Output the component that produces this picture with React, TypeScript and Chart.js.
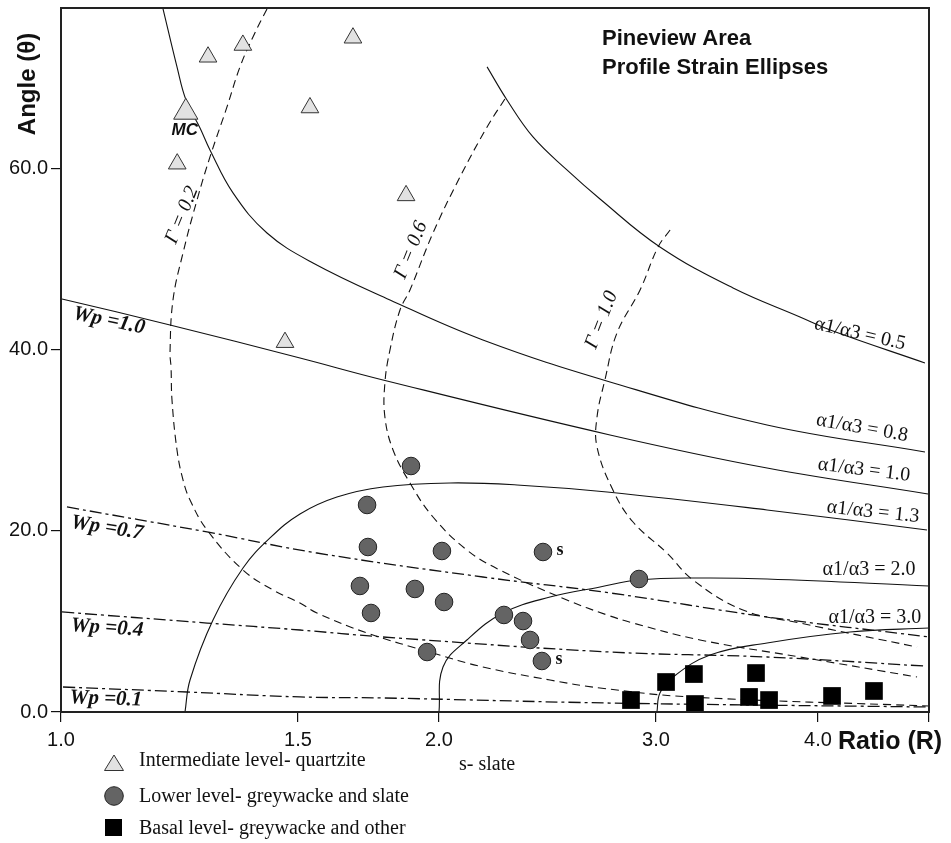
import React, { useEffect, useRef } from 'react';
import { Chart, registerables, LinearScale } from 'chart.js';

Chart.register(...registerables);

// ---------------- Axis definition ----------------
const X_TICKS = [1.0, 1.5, 2.0, 3.0, 4.0, 4.9];
const X_TICK_LABELS = ['1.0', '1.5', '2.0', '3.0', '4.0', ''];
const Y_TICKS = [0, 20, 40, 60];
const Y_MAX = 77.7;
// ratio axis knots (ratio value -> fraction of axis length), log-interpolated between knots
const AXIS_R = [1.0, 1.5, 2.0, 3.0, 4.0, 4.9];
const AXIS_F = [0, 0.27304, 0.43548, 0.68548, 0.87212, 1.0];

// ---------------- Sample data ----------------
// Intermediate level - quartzite (triangles)
const QUARTZITE_R = [1.286, 1.365, 1.678, 1.238, 1.220, 1.537, 1.870, 1.467];
const QUARTZITE_THETA = [72.3, 73.6, 74.4, 66.2, 60.5, 66.7, 57.0, 40.8];
const MC_INDEX = 3;
// Lower level - greywacke and slate (circles)
const GREYWACKE_R = [1.889, 1.727, 1.730, 2.011, 2.429, 1.702, 1.904, 2.019, 1.741, 2.258, 2.340, 2.371, 2.424, 1.952, 2.906];
const GREYWACKE_THETA = [27.15, 22.85, 18.21, 17.77, 17.66, 13.91, 13.58, 12.14, 10.93, 10.71, 10.04, 7.95, 5.63, 6.62, 14.68];
const SLATE_INDEX = [4, 12];
// Basal level - greywacke and other (squares)
const BASAL_R = [2.863, 3.054, 3.209, 3.215, 3.583, 3.539, 3.667, 4.104, 4.431];
const BASAL_THETA = [1.32, 3.31, 4.19, 0.88, 4.30, 1.66, 1.32, 1.77, 2.32];

// ---------------- Reference curves ----------------
const ALPHA_05_R = [2.188, 2.271, 2.384, 2.540, 2.702, 3.021, 3.440, 3.874, 4.111, 4.864];
const ALPHA_05_T = [71.20, 67.55, 63.47, 59.83, 56.62, 51.33, 46.80, 43.60, 42.05, 38.52];
const ALPHA_08_R = [1.1907, 1.2195, 1.2384, 1.2685, 1.2903, 1.3421, 1.4225, 1.5466, 1.8097, 2.171, 2.753, 3.654, 4.864];
const ALPHA_08_T = [77.60, 71.20, 67.55, 64.46, 62.03, 57.29, 52.87, 49.56, 45.48, 41.06, 36.43, 31.68, 28.70];
const ALPHA_10_R = [1.0017, 1.2050, 1.5061, 1.784, 2.753, 3.654, 4.891];
const ALPHA_10_T = [45.59, 42.72, 39.07, 36.65, 30.58, 26.93, 24.06];
const ALPHA_13_R = [1.2363, 1.2470, 1.2970, 1.3653, 1.4299, 1.5061, 1.624, 1.784, 2.042, 2.314, 2.738, 3.654, 4.882];
const ALPHA_13_T = [0, 3.53, 10.15, 15.89, 19.21, 21.86, 23.73, 24.84, 25.28, 25.06, 24.28, 22.30, 20.09];
const ALPHA_20_R = [2.000, 2.015, 2.107, 2.254, 2.461, 2.702, 2.901, 3.244, 3.654, 4.9];
const ALPHA_20_T = [0, 4.97, 7.95, 10.93, 12.69, 13.80, 14.57, 14.79, 14.68, 13.91];
const ALPHA_30_R = [3.005, 3.021, 3.092, 3.302, 3.654, 4.241, 4.9];
const ALPHA_30_T = [0, 2.10, 3.86, 6.29, 7.62, 8.83, 9.27];

const WP_07_R = [1.0103, 1.2838, 1.559, 2.171, 2.753, 3.654, 4.9];
const WP_07_T = [22.63, 19.87, 17.55, 14.90, 13.14, 10.49, 8.28];
const WP_04_R = [1.0017, 1.2838, 1.5061, 1.784, 2.753, 3.654, 4.847];
const WP_04_T = [11.04, 9.82, 9.05, 8.28, 6.62, 6.07, 5.08];
const WP_01_R = [1.0034, 1.2406, 1.5061, 1.784, 2.753, 4.9];
const WP_01_T = [2.76, 2.21, 1.66, 1.55, 0.99, 0.55];

const GAMMA_02_R = [1.4225, 1.3888, 1.3583, 1.3284, 1.2903, 1.2620, 1.2321, 1.2112, 1.2050, 1.2071, 1.2091, 1.2195, 1.2321, 1.2470, 1.2838, 1.3653, 1.4372, 1.5061, 1.559, 1.727, 1.9757, 2.171, 2.461, 2.702, 3.187, 4.9];
const GAMMA_02_T = [77.60, 74.51, 71.20, 66.78, 61.26, 56.51, 50.66, 45.48, 39.63, 38.08, 34.44, 28.92, 25.61, 23.40, 20.09, 15.67, 13.47, 12.03, 10.93, 8.72, 6.51, 4.97, 3.53, 2.65, 1.66, 0.66];
const GAMMA_06_R = [2.262, 2.188, 2.080, 1.9757, 1.885, 1.847, 1.8097, 1.791, 1.791, 1.821, 1.885, 1.9757, 2.107, 2.241, 2.540, 2.738, 2.874, 3.244, 3.874, 4.794];
const GAMMA_06_T = [67.66, 64.57, 59.05, 52.87, 46.58, 44.37, 39.96, 36.32, 32.56, 28.92, 25.28, 21.52, 17.88, 15.67, 12.36, 10.71, 9.82, 7.95, 6.07, 3.86];
const GAMMA_10_R = [3.076, 3.011, 2.912, 2.789, 2.727, 2.687, 2.687, 2.768, 2.874, 3.059, 3.204, 3.501, 3.874, 4.794];
const GAMMA_10_T = [53.20, 51.33, 46.58, 41.83, 36.65, 32.56, 29.25, 24.50, 20.97, 17.55, 14.57, 11.26, 9.82, 7.17];

// ---------------- Curve labels ----------------
const ALPHA_LABELS = ['α1/α3 = 0.5', 'α1/α3 = 0.8', 'α1/α3 = 1.0', 'α1/α3 = 1.3', 'α1/α3 = 2.0', 'α1/α3 = 3.0'];
const ALPHA_LABEL_R = [4.319, 4.335, 4.351, 4.423, 4.391, 4.439];
const ALPHA_LABEL_T = [41.72, 31.35, 26.71, 22.08, 15.67, 10.38];
const ALPHA_LABEL_ROT = [13, 10, 7, 6, 0, 0];
const GAMMA_LABELS = ['Γ = 0.2', 'Γ = 0.6', 'Γ = 1.0'];
const GAMMA_LABEL_R = [1.230, 1.889, 2.710];
const GAMMA_LABEL_T = [54.86, 51.0, 43.27];
const GAMMA_LABEL_ROT = [-68, -68, -69];
const WP_LABELS = ['Wp =1.0', 'Wp =0.7', 'Wp =0.4', 'Wp =0.1'];
const WP_LABEL_R = [1.0856, 1.0819, 1.0819, 1.0800];
const WP_LABEL_T = [43.16, 20.31, 9.27, 1.43];
const WP_LABEL_ROT = [12, 9, 4, 2];

const LEGEND_LABELS = ['Intermediate level- quartzite', 'Lower level- greywacke and slate', 'Basal level- greywacke and other'];

// ---------------- Custom ratio scale ----------------
function ratioToDecimal(v: number): number {
  if (!(v > 0)) return 0;
  const n = AXIS_R.length;
  let i = 0;
  while (i < n - 2 && v > AXIS_R[i + 1]) i++;
  const t = Math.log(v / AXIS_R[i]) / Math.log(AXIS_R[i + 1] / AXIS_R[i]);
  return AXIS_F[i] + t * (AXIS_F[i + 1] - AXIS_F[i]);
}
function decimalToRatio(d: number): number {
  const n = AXIS_F.length;
  let i = 0;
  while (i < n - 2 && d > AXIS_F[i + 1]) i++;
  const t = (d - AXIS_F[i]) / (AXIS_F[i + 1] - AXIS_F[i]);
  return AXIS_R[i] * Math.pow(AXIS_R[i + 1] / AXIS_R[i], t);
}

class RatioScale extends (LinearScale as any) {
  static id = 'ratio';
  static defaults = (LinearScale as any).defaults;
  determineDataLimits() {
    (this as any).min = AXIS_R[0];
    (this as any).max = AXIS_R[AXIS_R.length - 1];
  }
  buildTicks() {
    return X_TICKS.map((value) => ({ value }));
  }
  getPixelForValue(value: number) {
    return (this as any).getPixelForDecimal(ratioToDecimal(value));
  }
  getValueForPixel(pixel: number) {
    return decimalToRatio((this as any).getDecimalForPixel(pixel));
  }
}
Chart.register(RatioScale as any);

const pts = (rs: number[], ts: number[]) => rs.map((r, i) => ({ x: r, y: ts[i] }));

const INK = '#111';
const DASHED = [8, 5];
const DASHDOT = [12, 4, 3, 4];

function curve(rs: number[], ts: number[], dash: number[], width = 1.1) {
  return {
    data: pts(rs, ts),
    showLine: true,
    pointRadius: 0,
    borderColor: INK,
    borderWidth: width,
    borderDash: dash,
    tension: 0.4,
    fill: false,
    order: 1,
  };
}

const annotationPlugin = {
  id: 'strainAnnotations',
  afterDatasetsDraw(chart: any) {
    const ctx = chart.ctx as CanvasRenderingContext2D;
    const xs = chart.scales.x;
    const ys = chart.scales.y;
    const put = (text: string, r: number, t: number, rot: number, font: string) => {
      const px = xs.getPixelForValue(r);
      const py = ys.getPixelForValue(t);
      ctx.save();
      ctx.translate(px, py);
      ctx.rotate((rot * Math.PI) / 180);
      ctx.font = font;
      ctx.textAlign = 'center';
      ctx.textBaseline = 'middle';
      ctx.fillStyle = INK;
      ctx.fillText(text, 0, 0);
      ctx.restore();
    };
    ALPHA_LABELS.forEach((s, i) => put(s, ALPHA_LABEL_R[i], ALPHA_LABEL_T[i], ALPHA_LABEL_ROT[i], "20px 'Liberation Serif'"));
    GAMMA_LABELS.forEach((s, i) => put(s, GAMMA_LABEL_R[i], GAMMA_LABEL_T[i], GAMMA_LABEL_ROT[i], "italic 20px 'Liberation Serif'"));
    WP_LABELS.forEach((s, i) => put(s, WP_LABEL_R[i], WP_LABEL_T[i], WP_LABEL_ROT[i], "italic bold 21px 'Liberation Serif'"));

    // MC label under the large triangle
    ctx.save();
    ctx.font = "italic bold 17px 'Liberation Sans'";
    ctx.textAlign = 'center';
    ctx.textBaseline = 'middle';
    ctx.fillStyle = INK;
    ctx.fillText('MC', xs.getPixelForValue(QUARTZITE_R[MC_INDEX]) - 1, ys.getPixelForValue(QUARTZITE_THETA[MC_INDEX]) + 18);
    // slate markers
    ctx.font = "bold 18px 'Liberation Serif'";
    SLATE_INDEX.forEach((i) => {
      ctx.fillText('s', xs.getPixelForValue(GREYWACKE_R[i]) + 17, ys.getPixelForValue(GREYWACKE_THETA[i]) - 2);
    });
    ctx.restore();
  },
  afterDraw(chart: any) {
    const ctx = chart.ctx as CanvasRenderingContext2D;
    const a = chart.chartArea;
    ctx.save();
    // frame
    ctx.strokeStyle = '#222';
    ctx.lineWidth = 2;
    ctx.strokeRect(a.left, a.top, a.right - a.left, a.bottom - a.top);
    ctx.fillStyle = INK;
    // title
    ctx.font = "bold 22px 'Liberation Sans'";
    ctx.textAlign = 'left';
    ctx.textBaseline = 'alphabetic';
    ctx.fillText('Pineview Area', 602, 45);
    ctx.fillText('Profile Strain Ellipses', 602, 74);
    // axis titles
    ctx.font = "bold 25px 'Liberation Sans'";
    ctx.fillText('Ratio (R)', 838, 749);
    ctx.save();
    ctx.translate(35, 84);
    ctx.rotate(-Math.PI / 2);
    ctx.font = "bold 24px 'Liberation Sans'";
    ctx.textAlign = 'center';
    ctx.fillText('Angle (θ)', 0, 0);
    ctx.restore();
    // legend
    ctx.font = "20px 'Liberation Serif'";
    ctx.fillText(LEGEND_LABELS[0], 139, 766);
    ctx.fillText(LEGEND_LABELS[1], 139, 802);
    ctx.fillText(LEGEND_LABELS[2], 139, 834);
    ctx.fillText('s- slate', 459, 770);
    // legend markers
    ctx.lineWidth = 1;
    ctx.strokeStyle = '#333';
    ctx.fillStyle = '#e2e2e2';
    ctx.beginPath();
    ctx.moveTo(114, 755);
    ctx.lineTo(123.5, 770.5);
    ctx.lineTo(104.5, 770.5);
    ctx.closePath();
    ctx.fill();
    ctx.stroke();
    ctx.fillStyle = '#646464';
    ctx.strokeStyle = '#222';
    ctx.beginPath();
    ctx.arc(114, 796, 9.3, 0, Math.PI * 2);
    ctx.fill();
    ctx.stroke();
    ctx.fillStyle = '#000';
    ctx.fillRect(105, 819, 17, 17);
    ctx.restore();
  },
};

export default function App() {
  const ref = useRef<HTMLCanvasElement>(null);
  useEffect(() => {
    const canvas = ref.current;
    if (!canvas) return;
    const tickFont = { family: "'Liberation Sans'", size: 20 };
    const chart = new Chart(canvas, {
      type: 'scatter',
      data: {
        datasets: [
          {
            label: LEGEND_LABELS[0],
            data: pts(QUARTZITE_R, QUARTZITE_THETA),
            pointStyle: 'triangle',
            pointRadius: QUARTZITE_R.map((_, i) => (i === MC_INDEX ? 14 : 10.2)),
            pointBackgroundColor: '#e2e2e2',
            pointBorderColor: '#333',
            pointBorderWidth: 1,
            showLine: false,
            order: 0,
          },
          {
            label: LEGEND_LABELS[1],
            data: pts(GREYWACKE_R, GREYWACKE_THETA),
            pointStyle: 'circle',
            pointRadius: 8.8,
            pointBackgroundColor: '#646464',
            pointBorderColor: '#222',
            pointBorderWidth: 1,
            showLine: false,
            order: 0,
          },
          {
            label: LEGEND_LABELS[2],
            data: pts(BASAL_R, BASAL_THETA),
            pointStyle: 'rect',
            pointRadius: 12.5,
            pointBackgroundColor: '#000',
            pointBorderColor: '#000',
            pointBorderWidth: 0,
            showLine: false,
            order: 0,
          },
          curve(ALPHA_05_R, ALPHA_05_T, []),
          curve(ALPHA_08_R, ALPHA_08_T, []),
          curve(ALPHA_10_R, ALPHA_10_T, []),
          curve(ALPHA_13_R, ALPHA_13_T, []),
          curve(ALPHA_20_R, ALPHA_20_T, []),
          curve(ALPHA_30_R, ALPHA_30_T, []),
          curve(WP_07_R, WP_07_T, DASHDOT, 1.3),
          curve(WP_04_R, WP_04_T, DASHDOT, 1.3),
          curve(WP_01_R, WP_01_T, DASHDOT, 1.3),
          curve(GAMMA_02_R, GAMMA_02_T, DASHED),
          curve(GAMMA_06_R, GAMMA_06_T, DASHED),
          curve(GAMMA_10_R, GAMMA_10_T, DASHED),
        ] as any,
      },
      options: {
        animation: false,
        responsive: false,
        events: [],
        layout: { autoPadding: false, padding: { left: 0, top: 8, right: 22, bottom: 0 } },
        plugins: { legend: { display: false }, tooltip: { enabled: false } },
        scales: {
          x: {
            type: 'ratio' as any,
            min: AXIS_R[0],
            max: AXIS_R[AXIS_R.length - 1],
            afterFit: (s: any) => {
              s.height = 131;
              s.paddingLeft = 0;
              s.paddingRight = 0;
            },
            border: { display: false },
            grid: { drawOnChartArea: false, drawTicks: true, tickLength: 10, color: INK, lineWidth: 1.2 },
            ticks: {
              autoSkip: false,
              maxRotation: 0,
              minRotation: 0,
              padding: 6,
              color: INK,
              font: tickFont,
              callback: (_v: any, i: number) => X_TICK_LABELS[i],
            },
          },
          y: {
            type: 'linear',
            min: 0,
            max: Y_MAX,
            afterFit: (s: any) => {
              s.width = 61;
              s.paddingTop = 0;
              s.paddingBottom = 0;
            },
            afterBuildTicks: (s: any) => {
              s.ticks = Y_TICKS.map((value) => ({ value }));
            },
            border: { display: false },
            grid: { drawOnChartArea: false, drawTicks: true, tickLength: 10, color: INK, lineWidth: 1.2 },
            ticks: {
              autoSkip: false,
              padding: 3,
              color: INK,
              font: tickFont,
              callback: (v: any) => Number(v).toFixed(1),
            },
          },
        } as any,
      },
      plugins: [annotationPlugin as any],
    });
    return () => chart.destroy();
  }, []);
  return (
    <div style={{ position: 'absolute', left: 0, top: 0, width: 951, height: 843, background: '#fff' }}>
      <canvas ref={ref} width={951} height={843} style={{ display: 'block', width: 951, height: 843 }} />
    </div>
  );
}
